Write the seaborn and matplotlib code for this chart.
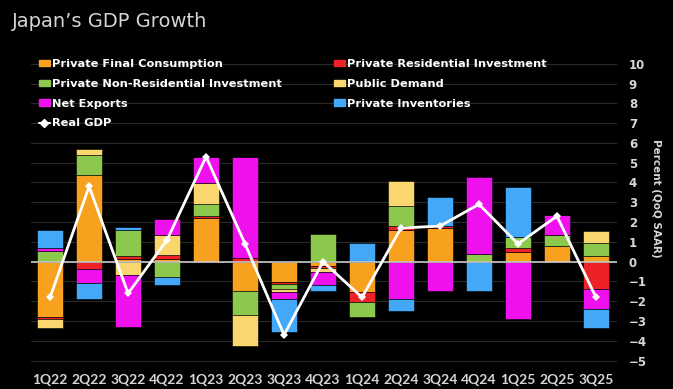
import numpy as np
import matplotlib
matplotlib.use("Agg")
import matplotlib.pyplot as plt
import seaborn as sns
from matplotlib.patches import Patch
from matplotlib.lines import Line2D

# ---- data (percentage-point contributions, QoQ SAAR) ----
quarters = ["1Q22", "2Q22", "3Q22", "4Q22", "1Q23", "2Q23", "3Q23", "4Q23",
            "1Q24", "2Q24", "3Q24", "4Q24", "1Q25", "2Q25", "3Q25"]
consumption = [-2.78, 4.38, 0.15, 0.15, 2.19, -1.48, -1.01, -0.20,
               -1.52, 1.60, 1.70, 0.00, 0.47, 0.79, 0.29]
residential = [-0.12, -0.39, 0.15, 0.20, 0.12, 0.17, -0.10, -0.10,
               -0.50, 0.20, 0.08, 0.00, 0.24, 0.00, -1.39]
nonresidential = [0.56, 1.00, 1.31, -0.76, 0.60, -1.21, -0.25, 1.38,
                  -0.76, 1.01, 0.00, 0.37, 0.55, 0.56, 0.67]
public_demand = [-0.47, 0.29, -0.67, 1.00, 1.05, -1.57, -0.17, -0.20,
                 0.00, 1.27, 0.00, 0.00, 0.00, 0.00, 0.61]
net_exports = [0.12, -0.70, -2.61, 0.80, 1.31, 5.10, -0.34, -0.68,
               0.00, -1.90, -1.48, 3.92, -2.89, 1.01, -1.01]
inventories = [0.92, -0.78, 0.15, -0.42, 0.00, 0.00, -1.68, -0.28,
               0.96, -0.57, 1.50, -1.48, 2.53, 0.00, -0.96]
real_gdp = [-1.8, 3.8, -1.6, 1.1, 5.3, 0.9, -3.7, 0.0,
            -1.8, 1.7, 1.8, 2.9, 0.9, 2.3, -1.8]

series_names = ["Private Final Consumption", "Private Residential Investment",
                "Private Non-Residential Investment", "Public Demand",
                "Net Exports", "Private Inventories"]
series_colors = ["#F7A11E", "#EE2127", "#8CC84B", "#FAD66E", "#EE11EE", "#44A8F8"]
yticks = list(range(-5, 11))

# ---- style ----
sns.set_theme(style="dark", rc={"axes.facecolor": "black",
                                "figure.facecolor": "black",
                                "savefig.facecolor": "black"})
plt.rcParams["font.family"] = ["DejaVu Sans"]

W, H = 673, 389
fig = plt.figure(figsize=(W / 100, H / 100), dpi=100)
ax_top, ax_bot = 55.8, 366.6
ax = fig.add_axes([31 / W, 1 - ax_bot / H, (617 - 31) / W, (ax_bot - ax_top) / H])
ax.set_facecolor("black")

components = [consumption, residential, nonresidential, public_demand,
              net_exports, inventories]
n = len(quarters)
pos_base = np.zeros(n)
neg_base = np.zeros(n)
for vals, col in zip(components, series_colors):
    v = np.asarray(vals, dtype=float)
    bottom = np.where(v >= 0, pos_base, neg_base)
    sns.barplot(x=quarters, y=v, order=quarters, bottom=bottom, color=col,
                saturation=1, width=0.67, errorbar=None, ax=ax,
                edgecolor="black", linewidth=0.4, zorder=2)
    pos_base += np.clip(v, 0, None)
    neg_base += np.clip(v, None, 0)

ax.axhline(0, color="#c8c8c8", lw=1.2, zorder=3)

sns.lineplot(x=quarters, y=real_gdp, sort=False, ax=ax, color="white",
             lw=2, marker="D", markersize=4.5, markeredgewidth=0,
             zorder=4, legend=False)

ax.set_xlim(-0.49, n - 1 + 0.54)
ax.set_ylim(-5.3, 10.4)
ax.set_yticks(yticks)
ax.yaxis.tick_right()
ax.yaxis.grid(True, color="#2a2a2a", lw=0.8)
ax.xaxis.grid(False)
ax.set_axisbelow(True)
for s in ax.spines.values():
    s.set_visible(False)
ax.set_xlabel("")
ax.set_ylabel("")
ax.tick_params(axis="y", length=0, pad=8.5, labelsize=8.5, labelcolor="#d6d6d6")
ax.tick_params(axis="x", length=0, pad=5.5, labelcolor="#d6d6d6")
for lab in ax.get_yticklabels():
    lab.set_fontweight("bold")
    lab.set_horizontalalignment("left")
for lab in ax.get_xticklabels():
    lab.set_fontfamily(["Lato", "DejaVu Sans"])
    lab.set_fontweight("bold")
    lab.set_fontsize(10)

# ---- title & axis label ----
fig.text(12 / W, 1 - 27 / H, "Japan\u2019s GDP Growth", ha="left", va="baseline",
         fontsize=14, color="#d4d4d4")
fig.text(656 / W, 1 - 198 / H, "Percent (QoQ SAAR)", rotation=270,
         ha="center", va="center", fontsize=7.5, fontweight="bold", color="#d6d6d6")

# ---- legends (two columns) ----
legend_kw = dict(loc="upper left", frameon=False,
                 prop={"weight": "bold", "size": 8.2},
                 labelcolor="white", handlelength=0.95, handleheight=0.45,
                 handletextpad=0.2, labelspacing=0.86, borderpad=0,
                 borderaxespad=0)
h1 = [Patch(color=series_colors[0]), Patch(color=series_colors[2]),
      Patch(color=series_colors[4]),
      Line2D([], [], color="white", lw=1.5, marker="D", markersize=4)]
l1 = [series_names[0], series_names[2], series_names[4], "Real GDP"]
h2 = [Patch(color=series_colors[1]), Patch(color=series_colors[3]),
      Patch(color=series_colors[5])]
l2 = [series_names[1], series_names[3], series_names[5]]
fig.legend(h1, l1, bbox_to_anchor=(39 / W, 1 - 59 / H), **legend_kw)
fig.legend(h2, l2, bbox_to_anchor=(334 / W, 1 - 59 / H), **legend_kw)

fig.savefig("out.png", dpi=100, facecolor="black")
